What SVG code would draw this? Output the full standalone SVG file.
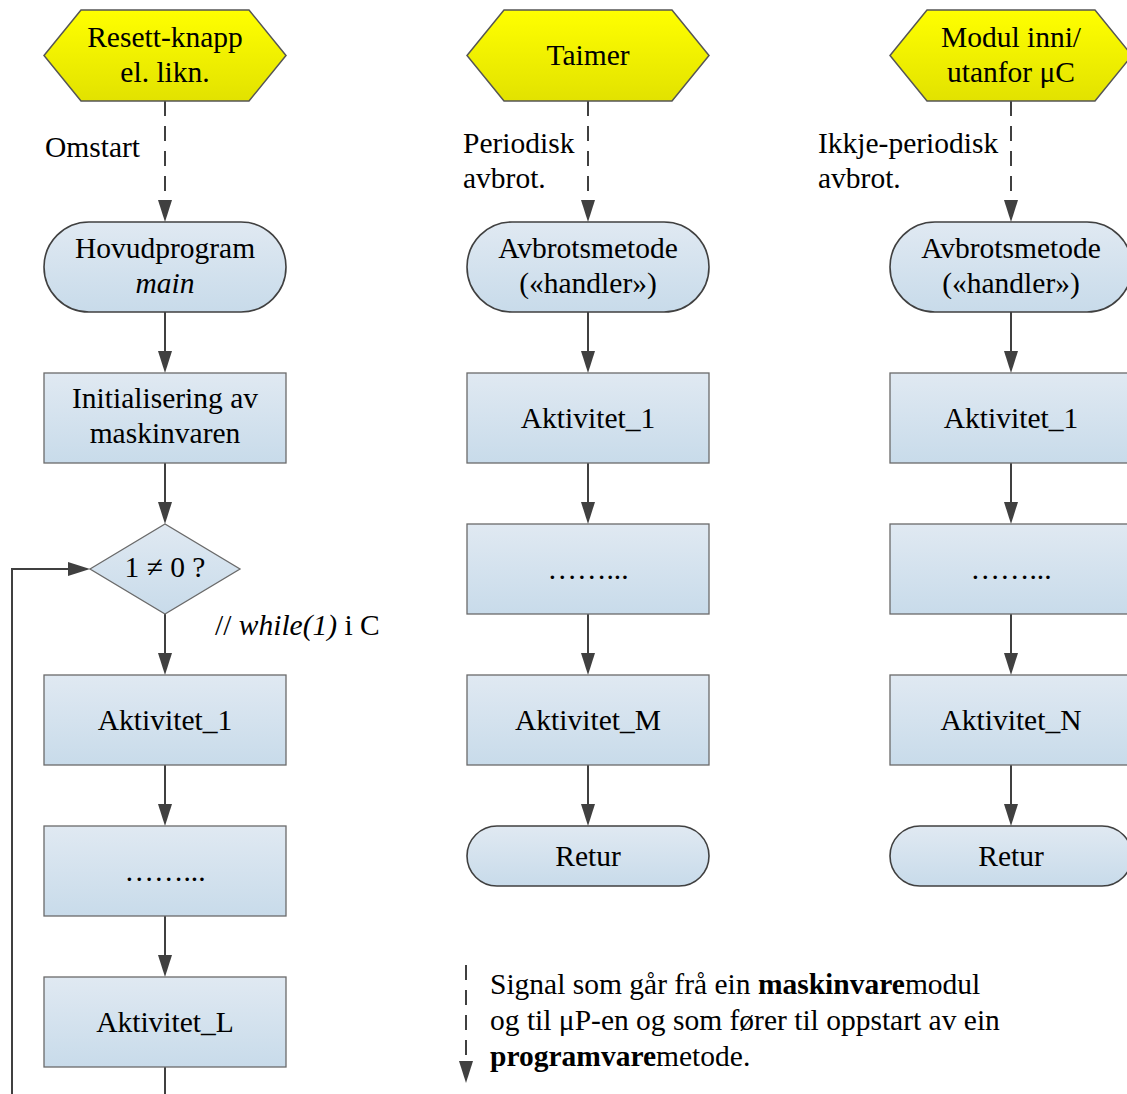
<svg xmlns="http://www.w3.org/2000/svg" width="1127" height="1094" viewBox="0 0 1127 1094">
  <defs>
    <linearGradient id="blueFill" x1="0" y1="0" x2="0" y2="1">
      <stop offset="0" stop-color="#e0e9f2"/>
      <stop offset="1" stop-color="#c8dbea"/>
    </linearGradient>
    <linearGradient id="yellowFill" x1="0" y1="0" x2="0" y2="1">
      <stop offset="0" stop-color="#ffff00"/>
      <stop offset="1" stop-color="#e2e200"/>
    </linearGradient>
    <marker id="arrow" viewBox="0 0 22 14" refX="18" refY="7" markerWidth="22" markerHeight="14" markerUnits="userSpaceOnUse" orient="auto">
      <path d="M0,0 L22,7 L0,14 Z" fill="#404040"/>
    </marker>
    <style>
      text { font-family: "Liberation Serif", "Times New Roman", serif; font-size: 29.5px; fill: #000; }
      .c { text-anchor: middle; }
      .box { fill: url(#blueFill); stroke: #6a6a6a; stroke-width: 1.3; }
      .term { fill: url(#blueFill); stroke: #404040; stroke-width: 1.6; }
      .hex { fill: url(#yellowFill); stroke: #555; stroke-width: 1.5; }
      .flow { fill: none; stroke: #404040; stroke-width: 2; marker-end: url(#arrow); }
      .line { fill: none; stroke: #404040; stroke-width: 2; }
      .sig { fill: none; stroke: #404040; stroke-width: 2; stroke-dasharray: 15 10; marker-end: url(#arrow); }
    </style>
  </defs>

  <rect width="1127" height="1094" fill="#fff"/>

  <!-- connectors -->
  <g id="connectors">
    <!-- main program column -->
    <path class="sig" d="M165,101 V218"/>
    <path class="flow" d="M165,312 V369"/>
    <path class="flow" d="M165,463 V520"/>
    <path class="flow" d="M165,614 V671"/>
    <path class="flow" d="M165,765 V822"/>
    <path class="flow" d="M165,916 V973"/>
    <path class="line" d="M165,1067 V1094"/>
    <path class="flow" d="M12,1094 V569 H86"/>
    <!-- timer interrupt column -->
    <path class="sig" d="M588,101 V218"/>
    <path class="flow" d="M588,312 V369"/>
    <path class="flow" d="M588,463 V520"/>
    <path class="flow" d="M588,614 V671"/>
    <path class="flow" d="M588,765 V822"/>
    <!-- module interrupt column -->
    <path class="sig" d="M1011,101 V218"/>
    <path class="flow" d="M1011,312 V369"/>
    <path class="flow" d="M1011,463 V520"/>
    <path class="flow" d="M1011,614 V671"/>
    <path class="flow" d="M1011,765 V822"/>
    <!-- legend -->
    <path class="sig" d="M466,965 V1079"/>
  </g>

  <!-- connector labels -->
  <g id="labels">
    <text x="45" y="157">Omstart</text>
    <text x="463" y="153">Periodisk</text>
    <text x="463" y="188">avbrot.</text>
    <text x="818" y="153">Ikkje-periodisk</text>
    <text x="818" y="188">avbrot.</text>
    <text x="215" y="635">// <tspan font-style="italic">while(1)</tspan> i C</text>
  </g>

  <!-- main program column -->
  <g id="reset">
    <path class="hex" d="M44,55.5 L81,10 H249 L286,55.5 L249,101 H81 Z"/>
    <text class="c" x="165" y="47">Resett-knapp</text>
    <text class="c" x="165" y="82">el. likn.</text>
  </g>
  <g id="main">
    <rect class="term" x="44" y="222" width="242" height="90" rx="45" ry="45"/>
    <text class="c" x="165" y="258">Hovudprogram</text>
    <text class="c" x="165" y="293" font-style="italic">main</text>
  </g>
  <g id="init">
    <rect class="box" x="44" y="373" width="242" height="90"/>
    <text class="c" x="165" y="408">Initialisering av</text>
    <text class="c" x="165" y="443">maskinvaren</text>
  </g>
  <g id="loop-test">
    <path class="box" d="M90,569 L165,524 L240,569 L165,614 Z"/>
    <text class="c" x="165" y="577" font-size="27">1 ≠ 0 ?</text>
  </g>
  <g id="main-act1">
    <rect class="box" x="44" y="675" width="242" height="90"/>
    <text class="c" x="165" y="730">Aktivitet_1</text>
  </g>
  <g id="main-dots">
    <rect class="box" x="44" y="826" width="242" height="90"/>
    <text class="c" x="165" y="881">……...</text>
  </g>
  <g id="main-actL">
    <rect class="box" x="44" y="977" width="242" height="90"/>
    <text class="c" x="165" y="1032">Aktivitet_L</text>
  </g>

  <!-- timer interrupt column -->
  <g id="timer">
    <path class="hex" d="M467,55.5 L504,10 H672 L709,55.5 L672,101 H504 Z"/>
    <text class="c" x="588" y="65">Taimer</text>
  </g>
  <g id="timer-handler">
    <rect class="term" x="467" y="222" width="242" height="90" rx="45" ry="45"/>
    <text class="c" x="588" y="258">Avbrotsmetode</text>
    <text class="c" x="588" y="293">(«handler»)</text>
  </g>
  <g id="timer-act1">
    <rect class="box" x="467" y="373" width="242" height="90"/>
    <text class="c" x="588" y="428">Aktivitet_1</text>
  </g>
  <g id="timer-dots">
    <rect class="box" x="467" y="524" width="242" height="90"/>
    <text class="c" x="588" y="579">……...</text>
  </g>
  <g id="timer-actM">
    <rect class="box" x="467" y="675" width="242" height="90"/>
    <text class="c" x="588" y="730">Aktivitet_M</text>
  </g>
  <g id="timer-return">
    <rect class="term" x="467" y="826" width="242" height="60" rx="30" ry="30"/>
    <text class="c" x="588" y="866">Retur</text>
  </g>

  <!-- module interrupt column -->
  <g id="module">
    <path class="hex" d="M890,55.5 L927,10 H1095 L1132,55.5 L1095,101 H927 Z"/>
    <text class="c" x="1011" y="47">Modul inni/</text>
    <text class="c" x="1011" y="82">utanfor μC</text>
  </g>
  <g id="module-handler">
    <rect class="term" x="890" y="222" width="242" height="90" rx="45" ry="45"/>
    <text class="c" x="1011" y="258">Avbrotsmetode</text>
    <text class="c" x="1011" y="293">(«handler»)</text>
  </g>
  <g id="module-act1">
    <rect class="box" x="890" y="373" width="242" height="90"/>
    <text class="c" x="1011" y="428">Aktivitet_1</text>
  </g>
  <g id="module-dots">
    <rect class="box" x="890" y="524" width="242" height="90"/>
    <text class="c" x="1011" y="579">……...</text>
  </g>
  <g id="module-actN">
    <rect class="box" x="890" y="675" width="242" height="90"/>
    <text class="c" x="1011" y="730">Aktivitet_N</text>
  </g>
  <g id="module-return">
    <rect class="term" x="890" y="826" width="242" height="60" rx="30" ry="30"/>
    <text class="c" x="1011" y="866">Retur</text>
  </g>

  <!-- legend -->
  <g id="legend">
    <text x="490" y="994">Signal som går frå ein <tspan font-weight="bold">maskinvare</tspan>modul</text>
    <text x="490" y="1030">og til μP-en og som fører til oppstart av ein</text>
    <text x="490" y="1066"><tspan font-weight="bold">programvare</tspan>metode.</text>
  </g>
</svg>
